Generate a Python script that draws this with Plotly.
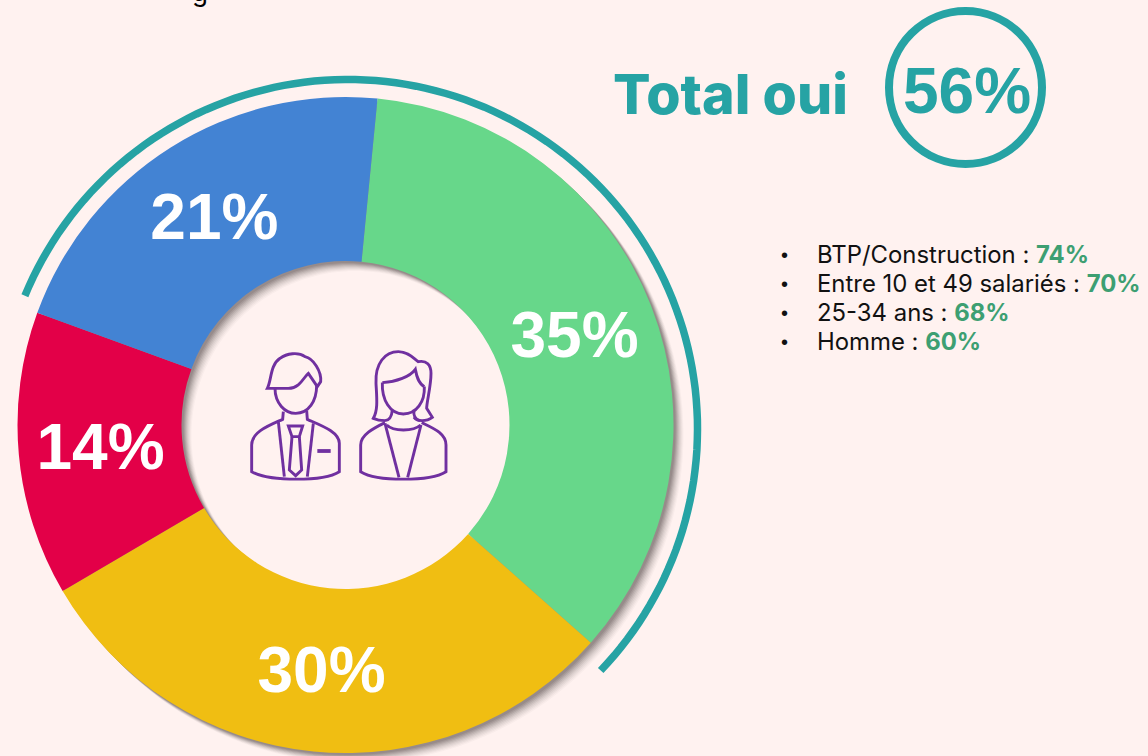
import re
import math
import plotly.graph_objects as go

W, H = 1148, 756
# data
segments = ["Oui, tout à fait", "Oui, plutôt", "Non, plutôt pas", "Non, pas du tout"]
shares = [35, 30, 14, 21]
slice_colors = ["#67D78A", "#F0BE12", "#E30048", "#4383D3"]
total_label = "56%"
bullet_labels = ["BTP/Construction : ", "Entre 10 et 49 salariés : ", "25-34 ans : ", "Homme : "]
bullet_values = ["74%", "70%", "68%", "60%"]

BG = "#FFF2F0"
TEAL = "#26A3A4"
GREEN = "#3D9F72"
PURPLE = "#7030A0"
CX, CY, R = 345.5, 425, 328
ROT = 5.6


def dom(cx, cy, r):
    return dict(x=[(cx - r) / W, (cx + r) / W], y=[1 - (cy + r) / H, 1 - (cy - r) / H])


fig = go.Figure()
fig.add_trace(go.Pie(labels=segments, values=shares, hole=0.5, sort=False, direction="clockwise",
                     rotation=ROT, domain=dom(CX, CY, R),
                     marker=dict(colors=slice_colors, line=dict(width=0)),
                     textinfo="percent", textposition="inside", insidetextorientation="horizontal",
                     insidetextfont=dict(family="Liberation Sans", size=64, color="white"),
                     texttemplate="<b>%{percent:.0%}</b>", showlegend=False))

shapes = []


def stroke(path, color, width):
    shapes.append(dict(type="path", xref="x", yref="y", path=path, line=dict(color=color, width=width),
                       fillcolor="rgba(0,0,0,0)"))


def circle_pts(cx, cy, r, rev=False, n=180):
    idx = range(n, -1, -1) if rev else range(n + 1)
    return [(cx + r * math.cos(2 * math.pi * i / n), cy + r * math.sin(2 * math.pi * i / n)) for i in idx]


def poly(pts):
    return "M" + " L".join(f"{x:.1f} {y:.1f}" for x, y in pts) + " Z"


# soft drop shadow: stacked translucent rings below the donut
for off, alpha in [(10, 0.03), (9, 0.04), (8, 0.05), (7, 0.06), (6, 0.08), (5, 0.09), (4, 0.11), (3, 0.12), (2, 0.12)]:
    p = poly(circle_pts(CX + off, CY + off, R)) + " " + poly(circle_pts(CX + off, CY + off, R / 2, rev=True))
    shapes.append(dict(type="path", xref="x", yref="y", layer="below", path=p,
                       line=dict(width=0), fillcolor=f"rgba(60,50,50,{alpha})"))

# teal arc spanning the two "oui" slices, tilted slightly past their edges
yes_span = (shares[0] + shares[3]) / sum(shares) * 360
start = ROT - shares[3] / 100 * 360 + 2.4
end = start + yes_span - 0.3
AX, AY, AR = 348, 429, 349.5
pts = []
steps = 120
for i in range(steps + 1):
    a = math.radians(start + (end - start) * i / steps)
    pts.append((AX + AR * math.sin(a), AY - AR * math.cos(a)))
stroke("M" + " L".join(f"{x:.1f} {y:.1f}" for x, y in pts), TEAL, 7.5)

# badge circle
shapes.append(dict(type="circle", xref="x", yref="y", x0=889, y0=11, x1=1042, y1=164,
                   line=dict(color=TEAL, width=8), fillcolor="rgba(0,0,0,0)"))

# people icon, traced in a 3x working frame
icon = [
    "M112 175 C125 150 120 105 150 85 C170 70 205 65 225 80 C250 85 275 125 272 155 L262 170 L235 130 C222 140 210 175 175 175 Z",
    "M135 175 C135 220 165 250 197 250 C235 250 260 215 260 165",
    "M160 245 L158 268 C120 285 65 305 65 345 L65 425 C120 455 280 455 328 425 L328 340 C328 305 270 285 232 268 L230 242",
    "M145 275 L163 440", "M250 280 L232 440",
    "M175 288 L218 288 L208 320 L186 320 Z",
    "M186 320 L178 420 L197 437 L215 420 L208 320",
    "M457 158 C500 155 540 140 556 118 C560 140 565 160 583 170",
    "M457 158 C455 210 480 252 520 252 C560 252 585 215 583 170",
    "M465 272 C450 272 440 270 430 265 C445 240 440 200 438 160 C435 100 465 65 505 65 C535 65 550 85 565 95 C590 90 603 105 603 130 C603 170 590 215 590 235 L607 262 C590 275 560 275 552 262",
    "M465 272 C480 270 485 260 487 240",
    "M552 240 C550 255 552 268 570 272",
    "M470 285 C490 305 550 305 572 285",
    "M465 278 C430 295 392 315 392 345 L392 425 C440 455 600 455 648 425 L648 345 C648 310 610 295 575 278",
    "M465 280 L507 442", "M573 285 L533 442",
]


def to_px(p):
    is_x = True

    def rep(m):
        nonlocal is_x
        v = float(m.group())
        r = 230 + v / 3 if is_x else 330 + v / 3
        is_x = not is_x
        return f"{r:.2f}"

    return re.sub(r"-?\d+\.?\d*", rep, p)


for p in icon:
    stroke(to_px(p), PURPLE, 2.9)
stroke(to_px("M262 363 L302 363"), PURPLE, 3.8)

SANS = "Inter, sans-serif"
ann = [
    dict(x=612, y=93, text="Total oui", xanchor="left", font=dict(family=SANS, size=55.5, weight=800, color=TEAL)),
    dict(x=966.5, y=91, text=f"<b>{total_label}</b>", xanchor="center",
         font=dict(family="Liberation Sans", size=64, color=TEAL)),
]
for i, (lab, val) in enumerate(zip(bullet_labels, bullet_values)):
    y = 254.5 + 29 * i
    ann.append(dict(x=784.5, y=y, text="•", xanchor="center", font=dict(family="Liberation Sans", size=20, color="#111")))
    ann.append(dict(x=815.5, y=y, xanchor="left",
                    text=f"{lab}<b><span style='color:{GREEN}'>{val}</span></b>",
                    font=dict(family=SANS, size=23.9, color="#111")))
for a in ann:
    a.update(xref="x", yref="y", yanchor="middle", showarrow=False, align="left", borderpad=0)
# clipped remnant of a heading that runs off the top edge
ann.append(dict(xref="paper", yref="paper", x=200 / W, y=1 + 8 / H, text="g", xanchor="center", yanchor="middle",
                showarrow=False, font=dict(family=SANS, size=26, color="black")))

fig.update_layout(
    width=W, height=H, margin=dict(l=0, r=0, t=0, b=0),
    paper_bgcolor=BG, plot_bgcolor=BG, showlegend=False,
    xaxis=dict(range=[0, W], visible=False, fixedrange=True),
    yaxis=dict(range=[H, 0], visible=False, fixedrange=True),
    shapes=shapes, annotations=ann,
)
fig.write_html("out.html", config=dict(displayModeBar=False),
               post_script="document.body.style.margin='0';document.body.style.background='%s';" % BG)
